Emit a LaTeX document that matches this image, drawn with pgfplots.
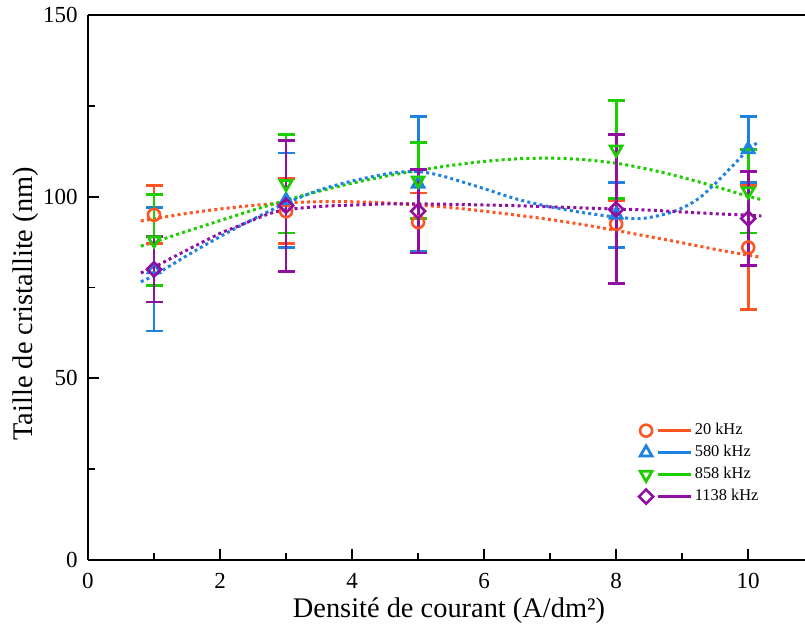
\documentclass[border=0pt]{standalone}
\usepackage{pgfplots}
\pgfplotsset{compat=1.18}
\usepackage{fontspec}
\setmainfont{Liberation Serif}
\definecolor{corange}{RGB}{255,85,34}
\definecolor{cblue}{RGB}{30,130,225}
\definecolor{cgreen}{RGB}{28,205,0}
\definecolor{cpurple}{RGB}{145,15,160}
\pgfplotsset{
  fitline/.style={line width=1.5pt, dash pattern=on 1.5pt off 1.6pt, smooth, mark=none},
  ebar/.style={only marks, line width=1.4pt,
    error bars/.cd, y dir=both, y explicit,
    error bar style={line width=1.4pt, solid},
    error mark options={rotate=90, mark size=4.25pt, line width=1.4pt},
    /pgfplots/.cd},
  mO/.style={mark=o, mark size=3pt, mark options={solid, fill=white, line width=1.3pt}},
  mU/.style={mark=triangle, mark size=3.4pt, mark options={solid, fill=white, line width=1.4pt}},
  mD/.style={mark=triangle, mark size=3.4pt, mark options={solid, rotate=180, fill=white, line width=1.4pt}},
  mR/.style={mark=square, mark size=2.5pt, mark options={solid, rotate=45, fill=white, line width=1.3pt}},
}
\begin{document}
\begin{tikzpicture}
\useasboundingbox (-44pt,-36pt) rectangle (358.5pt,280pt);
\begin{axis}[
  at={(0pt,0pt)}, anchor=south west,
  scale only axis, width=358.5pt, height=272.5pt,
  xmin=0, xmax=10.86, ymin=0, ymax=150,
  axis lines=left, axis line style={-, line width=0.9pt},
  xtick={0,2,4,6,8,10}, ytick={0,50,100,150},
  minor xtick={1,3,5,7,9}, minor ytick={25,75,125},
  tick align=inside, major tick length=5.5pt, minor tick length=3.5pt,
  tick style={line width=0.9pt, black},
  /pgf/number format/assume math mode=true,
  ticklabel style={font=\fontsize{11.5}{13}\selectfont},
  xticklabel style={anchor=base, yshift=-14.5pt},
  yticklabel style={anchor=east, xshift=-1.7pt},
  xlabel={Densité de courant (A/dm²)},
  ylabel={Taille de cristallite (nm)},
  every axis x label/.style={at={(axis description cs:0.5035,0)}, anchor=base, yshift=-29pt, font=\fontsize{14.2}{16}\selectfont},
  every axis y label/.style={at={(axis description cs:0,0.47)}, xshift=-27.5pt, rotate=90, anchor=base, font=\fontsize{14.2}{16}\selectfont},
  clip=false,
  extra description/.code={\draw[line width=0.9pt] (0,1) -- (1,1);},
  legend image code/.code={
    \draw[#1, mark=none, solid] (6pt,0pt) -- (22.5pt,0pt);
    \draw[#1] plot coordinates {(0pt,0pt)};
  },
  legend style={draw=none, fill=none, font=\fontsize{8.2}{9.5}\selectfont,
    at={(axis description cs:0.7596,0.263)}, anchor=north west, row sep=1.4pt,
    nodes={inner sep=1.2pt}},
  legend cell align=left,
]
% fitted curves
\addplot[corange, fitline, forget plot] coordinates {
(0.8,93.3) (1,93.9) (1.5,95.4) (2,96.6) (2.5,97.6) (3,98.3) (3.5,98.6) (4,98.6) (4.5,98.3) (5,97.7) (5.5,97.0) (6,96.0) (6.5,94.9) (7,93.7) (7.5,92.3) (8,90.7) (8.5,89.0) (9,87.3) (9.5,85.5) (10,83.9) (10.2,83.3)};
\addplot[cgreen, fitline, forget plot] coordinates {
(0.8,86.4) (1,87.5) (1.5,90.5) (2,93.4) (2.5,96.3) (3,99.0) (3.5,101.5) (4,103.7) (4.5,105.6) (5,107.2) (5.5,108.6) (6,109.7) (6.5,110.4) (7,110.6) (7.5,110.2) (8,109.2) (8.5,107.5) (9,105.3) (9.5,102.8) (10,100.1) (10.2,99.2)};
\addplot[cblue, fitline, forget plot] coordinates {
(0.8,76.6) (1,78.3) (1.5,83.8) (2,89.0) (2.5,93.8) (3,98.2) (3.5,101.8) (4,104.3) (4.5,106.2) (4.75,106.8) (5,106.9) (5.25,106.2) (5.5,105.0) (6,102.2) (6.5,99.3) (7,97.2) (7.5,95.6) (8,94.4) (8.4,94.0) (8.87,95.9) (9.25,99.5) (9.63,106.0) (10,112.9) (10.17,115.2)};
\addplot[cpurple, fitline, forget plot] coordinates {
(0.8,79.0) (1,80.6) (1.5,85.3) (2,89.9) (2.25,91.7) (2.5,93.6) (2.76,95.4) (3,96.4) (3.5,97.3) (4,97.7) (4.5,98.0) (5,98.0) (5.5,97.9) (6,97.7) (6.5,97.5) (7,97.2) (7.5,96.9) (8,96.6) (8.5,96.3) (9,95.8) (9.5,95.3) (10,94.9) (10.2,94.7)};
% data with error bars
\addplot[corange, mO, ebar, forget plot] coordinates {
(1,95) +- (0,8) (3,96) +- (0,9) (5,93) +- (0,8) (8,92.5) +- (0,6.5) (10,86) +- (0,17)};
\addplot[cblue, mU, ebar, forget plot] coordinates {
(1,80) +- (0,17) (3,99) +- (0,13) (5,103.5) +- (0,18.5) (8,95) +- (0,9) (10,113) +- (0,9)};
\addplot[cgreen, mD, ebar, forget plot] coordinates {
(1,88) +- (0,12.5) (3,103.5) +- (0,13.5) (5,104.5) +- (0,10.5) (8,113) +- (0,13.5) (10,101.5) +- (0,11.5)};
\addplot[cpurple, mR, ebar, forget plot] coordinates {
(1,80) +- (0,9) (3,97.5) +- (0,18) (5,96) +- (0,11.5) (8,96.5) +- (0,20.5) (10,94) +- (0,13)};
% legend
\addlegendimage{corange, line width=1.3pt, mO}
\addlegendentry{20 kHz}
\addlegendimage{cblue, line width=1.3pt, mU}
\addlegendentry{580 kHz}
\addlegendimage{cgreen, line width=1.3pt, mD}
\addlegendentry{858 kHz}
\addlegendimage{cpurple, line width=1.3pt, mR}
\addlegendentry{1138 kHz}
\end{axis}
\end{tikzpicture}
\end{document}
